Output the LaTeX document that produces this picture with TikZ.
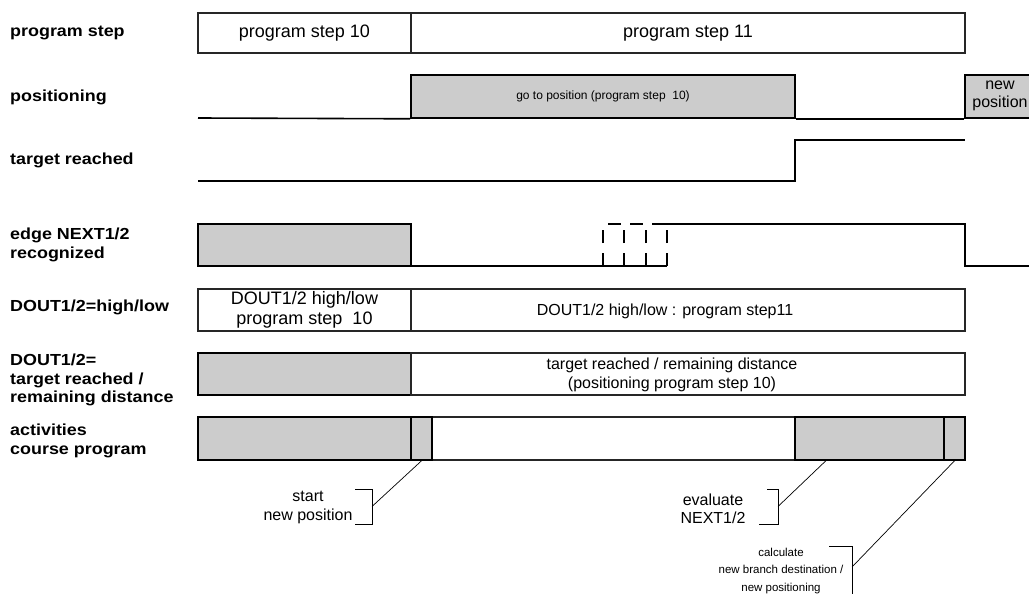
\documentclass[tikz,border=0pt]{standalone}
\usepackage{fontspec}
\usetikzlibrary{calc}
\setmainfont{Liberation Sans}
\newfontfamily\lblfont[FakeStretch=1.12]{Liberation Sans}
\begin{document}
\begin{tikzpicture}[x=1pt,y=-1pt,
  lbl/.style={anchor=west, align=left, inner sep=0pt,
    font=\lblfont\bfseries\fontsize{16}{18.5}\selectfont},
  txt/.style={align=center, inner sep=0pt, font=\fontsize{16}{18.4}\selectfont},
  bigtxt/.style={align=center, inner sep=0pt, font=\fontsize{18}{19.5}\selectfont},
  smalltxt/.style={align=center, inner sep=0pt, font=\fontsize{11.5}{17.5}\selectfont},
  wbox/.style={draw=black!85, line width=1.2pt, rectangle, inner sep=0pt},
  gbox/.style={wbox, fill=black!20, draw=black, line width=1.6pt},
  sig/.style={line width=1.6pt, black},
  pulse/.style={line width=1.4pt, black, dash pattern=on 13pt off 10pt},
  lead/.style={line width=0.7pt, black}]
\useasboundingbox (0,0) rectangle (1029,594);

% labels
\node[lbl] (l1) at (10,33) {program step};
\node[lbl] (l2) at (10,97) {positioning};
\node[lbl] (l3) at (10,160) {target reached};
\node[lbl] (l4) at (10,245) {edge NEXT1/2\\recognized};
\node[lbl] (l5) at (10,307) {DOUT1/2=high/low};
\node[lbl] (l6) at (10,380) {DOUT1/2=\\target reached /\\remaining distance};
\node[lbl] (l7) at (10,441) {activities\\course program};

% row 1: program step
\node[wbox, minimum width=213pt, minimum height=40pt] (ps10) at (304.5,33) {};
\node[wbox, minimum width=554pt, minimum height=40pt] (ps11) at (688,33) {};
\node[bigtxt] (ps10t) at (ps10.center) {program step 10};
\node[bigtxt] (ps11t) at (ps11.center) {program step 11};

% row 2: positioning
\node[gbox, minimum width=384pt, minimum height=43pt] (pos10) at (603,96.5) {};
\node[inner sep=0pt, font=\fontsize{12}{14}\selectfont] (pos10t) at (pos10.center) {go to position (program step~~10)};
\node[gbox, minimum width=75pt, minimum height=43pt] (newpos) at (1002.5,96.5) {};
\node[txt] (newpostxt) at (1000,96) {new\\position};
\draw[sig] (198,118) -- (pos10.south west);
\draw[sig] (pos10.south east) -- (newpos.south west);

% row 3: target reached
\coordinate (tr0) at (198,181);
\coordinate (tr1) at (795,181);
\coordinate (tr2) at (795,140);
\coordinate (tr3) at (965,140);
\draw[sig] (tr0) -- (tr1) -- (tr2) -- (tr3);

% row 4: edge NEXT1/2 recognized
\coordinate (e0) at (370,266);
\coordinate (e1) at (667,266);
\draw[sig] (e0) -- (e1);
\node[gbox, minimum width=213pt, minimum height=42pt] (edge10) at (304.5,245) {};
\foreach \x in {603,624,646,667} \draw[pulse] (\x,266) -- (\x,224);
\draw[pulse, dash pattern=on 13pt off 9pt] (608,224) -- (655,224);
\coordinate (e2) at (655,224);
\coordinate (e3) at (965,224);
\coordinate (e4) at (965,266);
\coordinate (e5) at (1035,266);
\draw[sig] (e2) -- (e3) -- (e4) -- (e5);

% row 5: DOUT high/low
\node[wbox, minimum width=213pt, minimum height=42pt] (d10) at (304.5,310) {};
\node[wbox, minimum width=554pt, minimum height=42pt] (d11) at (688,310) {};
\node[bigtxt] (d10t) at (304.5,310) {DOUT1/2 high/low\\program step~~10};
\node[txt] (d11t) at (665,311) {DOUT1/2 high/low : program step11};

% row 6: DOUT target reached
\node[gbox, minimum width=213pt, minimum height=42pt] (t10) at (304.5,374) {};
\node[wbox, minimum width=554pt, minimum height=42pt] (t11) at (688,374) {};
\node[txt] (t11t) at (672,375) {target reached / remaining distance\\(positioning program step 10)};

% row 7: activities
\node[wbox, minimum width=363pt, minimum height=43pt] (a3) at (613.5,438.5) {};
\node[gbox, minimum width=213pt, minimum height=43pt] (a1) at (304.5,438.5) {};
\node[gbox, minimum width=21pt, minimum height=43pt] (a2) at (421.5,438.5) {};
\node[gbox, minimum width=149pt, minimum height=43pt] (a4) at (869.5,438.5) {};
\node[gbox, minimum width=21pt, minimum height=43pt] (a5) at (954.5,438.5) {};

% annotation: start new position
\node[txt] (st) at (308,507.5) {start\\new position};
\coordinate (b1) at (372,506.5);
\draw[lead] (355,489) -- (372,489) -- (372,524) -- (355,524);
\draw[lead] (b1) -- (a2.south);

% annotation: evaluate NEXT1/2
\node[txt] (ev) at (713,509) {evaluate\\NEXT1/2};
\coordinate (b2) at (778,506.5);
\draw[lead] (767,489) -- (778,489) -- (778,524) -- (759,524);
\draw[lead] (b2) -- ($(a4.south west)!0.21!(a4.south east)$);

% annotation: calculate
\node[smalltxt] (calc) at (781,571) {calculate\\new branch destination /\\new positioning};
\coordinate (b3) at (852,567);
\draw[lead] (829,546) -- (852,546) -- (852,594);
\draw[lead] (b3) -- (a5.south);
\end{tikzpicture}
\end{document}
